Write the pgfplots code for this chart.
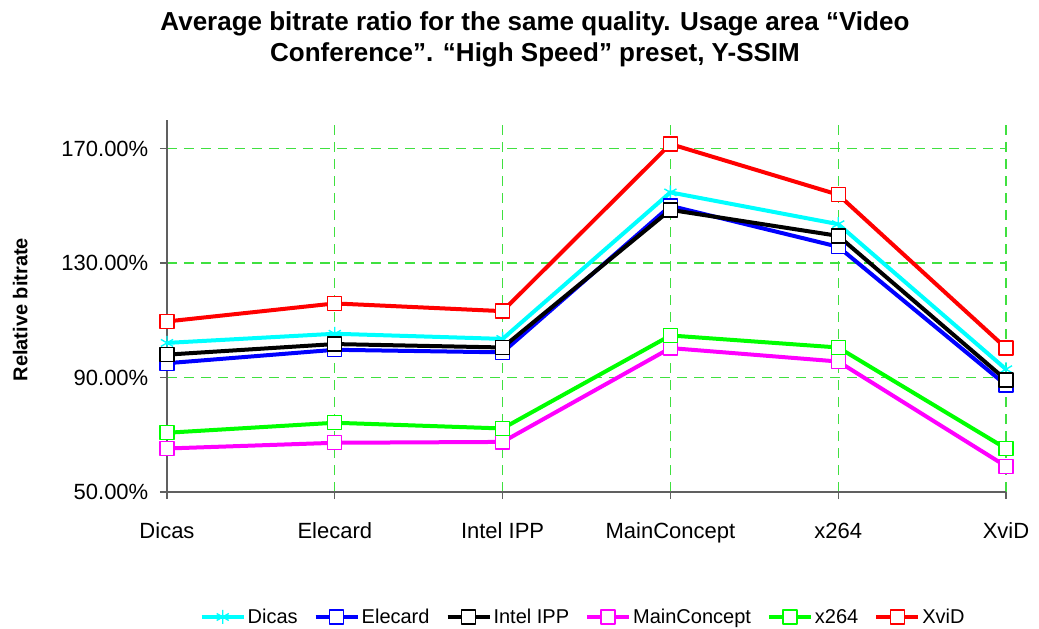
\documentclass[border=0pt]{standalone}
\usepackage{pgfplots}
\usepackage{pgfplotstable}
\usepackage{fontspec}
\setmainfont{Liberation Sans}
\pgfplotsset{compat=1.18}

\definecolor{gridgreen}{RGB}{64,224,64}
\definecolor{axgray}{RGB}{96,96,96}
\definecolor{cDicas}{RGB}{0,255,255}
\definecolor{cElecard}{RGB}{0,0,255}
\definecolor{cIntel}{RGB}{0,0,0}
\definecolor{cMC}{RGB}{255,0,255}
\definecolor{cX264}{RGB}{0,255,0}
\definecolor{cXvid}{RGB}{255,0,0}

% relative bitrate (%) per codec, categories 0..5
\pgfplotstableread{
x  dicas  elecard  intel  mc     x264   xvid
0  102.1  95.0     98.0   65.2   70.7   109.6
1  105.3  99.7     101.7  67.2   74.2   115.9
2  103.5  98.8     100.5  67.5   72.2   113.2
3  154.7  150.0    148.6  100.3  104.7  171.6
4  143.6  135.7    139.5  95.6   100.5  153.9
5  92.9   87.4     89.2   59.0   65.2   100.3
}\bitrate

\begin{document}
\begin{tikzpicture}
\useasboundingbox (-167pt,-137pt) rectangle (872pt,492pt);
\begin{axis}[
    scale only axis,
    width=839pt, height=372pt,
    xmin=0, xmax=5, ymin=50, ymax=180,
    clip=false,
    axis x line*=bottom, axis y line*=left,
    axis line style={axgray, line width=1.3pt, -},
    xtick=data,
    xticklabels={Dicas, Elecard, Intel IPP, MainConcept, x264, XviD},
    ytick={50,90,130,170},
    yticklabels={50.00\%, 90.00\%, 130.00\%, 170.00\%},
    tick align=outside,
    major tick length=7pt,
    tick style={axgray, line width=1.3pt},
    ticklabel style={font=\fontsize{22}{26}\selectfont},
    xticklabel style={anchor=base, yshift=-39.5pt},
    yticklabel style={anchor=east, inner sep=0pt, xshift=-11.5pt},
    grid=major,
    major grid style={gridgreen, line width=1.2pt, dash pattern=on 10pt off 7pt},
    title={Average bitrate ratio for the same quality. Usage area “Video\\Conference”. “High Speed” preset, Y-SSIM},
    title style={at={(axis description cs:0.4386,1.2)}, anchor=center, align=center,
        font=\fontsize{26}{31}\selectfont\bfseries},
    ylabel={Relative bitrate},
    ylabel style={at={(axis description cs:-0.175,0.49)}, anchor=center,
        font=\fontsize{20}{24}\selectfont\bfseries},
    legend columns=6,
    legend style={at={(axis description cs:0.496,-0.336)}, anchor=center, draw=none,
        font=\fontsize{20}{24}\selectfont,
        /tikz/every even column/.append style={column sep=14pt}},
    legend image code/.code={%
        \draw[mark repeat=2, mark phase=2] plot coordinates {(0pt,0pt) (21pt,0pt) (42pt,0pt)};},
    every axis plot/.append style={line width=4pt, line join=round, mark size=7pt},
]
\addplot[cDicas, mark=asterisk, mark options={solid, line width=1.4pt, draw=cDicas}] table[x=x, y=dicas] {\bitrate};
\addplot[cElecard, mark=square*, mark options={solid, line width=1.4pt, draw=cElecard, fill=white}] table[x=x, y=elecard] {\bitrate};
\addplot[cIntel, mark=square*, mark options={solid, line width=1.4pt, draw=cIntel, fill=white}] table[x=x, y=intel] {\bitrate};
\addplot[cMC, mark=square*, mark options={solid, line width=1.4pt, draw=cMC, fill=white}] table[x=x, y=mc] {\bitrate};
\addplot[cX264, mark=square*, mark options={solid, line width=1.4pt, draw=cX264, fill=white}] table[x=x, y=x264] {\bitrate};
\addplot[cXvid, mark=square*, mark options={solid, line width=1.4pt, draw=cXvid, fill=white}] table[x=x, y=xvid] {\bitrate};
\legend{Dicas, Elecard, Intel IPP, MainConcept, x264, XviD}
\end{axis}
\end{tikzpicture}
\end{document}
